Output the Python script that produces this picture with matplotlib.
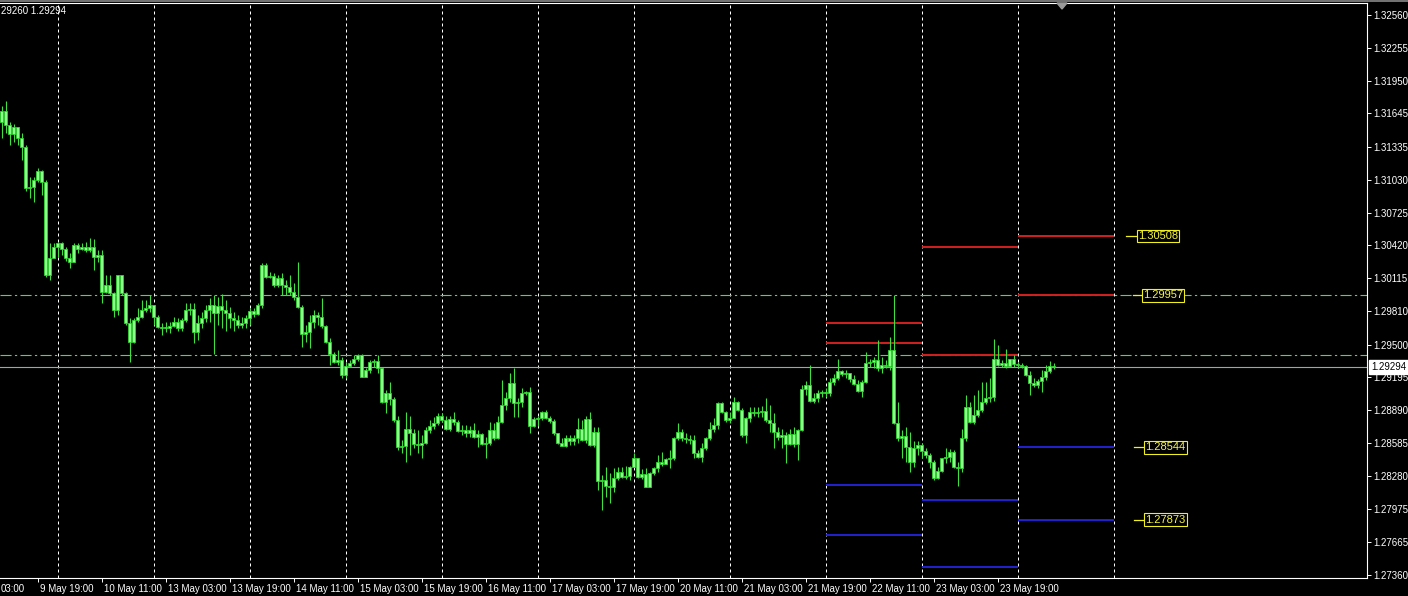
import numpy as np
import matplotlib
matplotlib.use("Agg")
import matplotlib.pyplot as plt
import matplotlib.transforms as mtransforms
from matplotlib.lines import Line2D
from matplotlib.patches import Polygon

# GBPUSD H1, 9 May 10:00 .. 24 May 09:00 (open of bar n = close of bar n-1)
first_open = 1.3157
closes = [
    1.3167, 1.3154, 1.3145, 1.3152, 1.3142, 1.3133, 1.3095, 1.3096, 1.3103, 1.3111,
    1.3101, 1.3015, 1.3030, 1.3041, 1.3044, 1.3039, 1.3030, 1.3027, 1.3042, 1.3039,
    1.3041, 1.3038, 1.3041, 1.3031, 1.3033, 1.2999, 1.3005, 1.2998, 1.2982, 1.3015,
    1.2998, 1.2970, 1.2952, 1.2973, 1.2976, 1.2982, 1.2984, 1.2987, 1.2976, 1.2966,
    1.2965, 1.2965, 1.2967, 1.2971, 1.2965, 1.2973, 1.2982, 1.2983, 1.2962, 1.2970,
    1.2975, 1.2982, 1.2987, 1.2979, 1.2986, 1.2982, 1.2979, 1.2975, 1.2973, 1.2968,
    1.2970, 1.2975, 1.2981, 1.2978, 1.2987, 1.3024, 1.3013, 1.3014, 1.3005, 1.3012,
    1.3005, 1.3003, 1.2999, 1.2994, 1.2985, 1.2960, 1.2962, 1.2971, 1.2977, 1.2976,
    1.2967, 1.2952, 1.2941, 1.2934, 1.2936, 1.2922, 1.2930, 1.2933, 1.2937, 1.2940,
    1.2920, 1.2926, 1.2934, 1.2935, 1.2928, 1.2897, 1.2905, 1.2899, 1.2880, 1.2855,
    1.2856, 1.2872, 1.2868, 1.2858, 1.2857, 1.2859, 1.2871, 1.2874, 1.2877, 1.2884,
    1.2880, 1.2872, 1.2881, 1.2878, 1.2870, 1.2871, 1.2868, 1.2871, 1.2864, 1.2867,
    1.2858, 1.2859, 1.2871, 1.2863, 1.2878, 1.2894, 1.2900, 1.2914, 1.2896, 1.2897,
    1.2905, 1.2906, 1.2874, 1.2881, 1.2882, 1.2887, 1.2882, 1.2879, 1.2868, 1.2859,
    1.2856, 1.2863, 1.2860, 1.2863, 1.2872, 1.2861, 1.2881, 1.2857, 1.2869, 1.2823,
    1.2824, 1.2819, 1.2818, 1.2826, 1.2832, 1.2827, 1.2828, 1.2836, 1.2845, 1.2827,
    1.2830, 1.2818, 1.2831, 1.2835, 1.2841, 1.2839, 1.2844, 1.2845, 1.2863, 1.2869,
    1.2863, 1.2862, 1.2861, 1.2849, 1.2846, 1.2854, 1.2863, 1.2872, 1.2875, 1.2896,
    1.2887, 1.2880, 1.2882, 1.2897, 1.2889, 1.2866, 1.2882, 1.2887, 1.2886, 1.2887,
    1.2888, 1.2880, 1.2877, 1.2869, 1.2864, 1.2866, 1.2858, 1.2867, 1.2858, 1.2871,
    1.2909, 1.2912, 1.2898, 1.2900, 1.2905, 1.2906, 1.2905, 1.2915, 1.2919, 1.2925,
    1.2923, 1.2924, 1.2918, 1.2913, 1.2907, 1.2915, 1.2933, 1.2934, 1.2936, 1.2928,
    1.2931, 1.2930, 1.2945, 1.2877, 1.2863, 1.2865, 1.2855, 1.2841, 1.2854, 1.2857,
    1.2851, 1.2847, 1.2841, 1.2826, 1.2833, 1.2845, 1.2846, 1.2850, 1.2836, 1.2835,
    1.2863, 1.2892, 1.2878, 1.2885, 1.2889, 1.2897, 1.2900, 1.2901, 1.2937, 1.2931,
    1.2933, 1.2930, 1.2937, 1.2932, 1.2931, 1.2930, 1.2922, 1.2914, 1.2912, 1.2916,
    1.2920, 1.2925, 1.2930, 1.29294,
]
highs = [
    1.3171, 1.3176, 1.3157, 1.3155, 1.3152, 1.3146, 1.3135, 1.3106, 1.3106, 1.3114,
    1.3112, 1.3103, 1.3044, 1.3044, 1.3045, 1.3045, 1.3041, 1.3035, 1.3044, 1.3044,
    1.3044, 1.3045, 1.3049, 1.3048, 1.3038, 1.3038, 1.3015, 1.3015, 1.2999, 1.3015,
    1.3015, 1.2999, 1.2975, 1.2975, 1.2984, 1.2991, 1.2991, 1.2996, 1.2977, 1.2977,
    1.2970, 1.2971, 1.2971, 1.2976, 1.2975, 1.2975, 1.2989, 1.2989, 1.2989, 1.2977,
    1.2980, 1.2987, 1.2993, 1.2996, 1.2994, 1.2997, 1.2991, 1.2985, 1.2980, 1.2977,
    1.2976, 1.2977, 1.2984, 1.2984, 1.2989, 1.3026, 1.3026, 1.3017, 1.3016, 1.3015,
    1.3016, 1.3010, 1.3015, 1.3007, 1.3027, 1.2987, 1.2968, 1.2977, 1.2982, 1.2980,
    1.2993, 1.2968, 1.2956, 1.2943, 1.2945, 1.2938, 1.2934, 1.2936, 1.2940, 1.2941,
    1.2941, 1.2928, 1.2936, 1.2937, 1.2940, 1.2928, 1.2908, 1.2915, 1.2901, 1.2884,
    1.2861, 1.2887, 1.2884, 1.2872, 1.2871, 1.2866, 1.2873, 1.2880, 1.2883, 1.2886,
    1.2886, 1.2884, 1.2884, 1.2887, 1.2880, 1.2875, 1.2875, 1.2874, 1.2877, 1.2871,
    1.2868, 1.2864, 1.2878, 1.2877, 1.2884, 1.2917, 1.2906, 1.2924, 1.2928, 1.2900,
    1.2910, 1.2907, 1.2911, 1.2883, 1.2884, 1.2888, 1.2889, 1.2884, 1.2881, 1.2868,
    1.2863, 1.2866, 1.2866, 1.2866, 1.2882, 1.2880, 1.2884, 1.2887, 1.2873, 1.2873,
    1.2829, 1.2836, 1.2831, 1.2835, 1.2836, 1.2836, 1.2837, 1.2837, 1.2849, 1.2845,
    1.2834, 1.2835, 1.2832, 1.2836, 1.2847, 1.2850, 1.2845, 1.2852, 1.2864, 1.2877,
    1.2872, 1.2868, 1.2866, 1.2866, 1.2852, 1.2859, 1.2864, 1.2878, 1.2882, 1.2897,
    1.2897, 1.2888, 1.2887, 1.2901, 1.2898, 1.2891, 1.2883, 1.2892, 1.2892, 1.2892,
    1.2893, 1.2900, 1.2894, 1.2886, 1.2873, 1.2872, 1.2869, 1.2872, 1.2873, 1.2872,
    1.2912, 1.2916, 1.2931, 1.2905, 1.2908, 1.2908, 1.2910, 1.2919, 1.2923, 1.2937,
    1.2926, 1.2926, 1.2924, 1.2922, 1.2917, 1.2917, 1.2943, 1.2937, 1.2938, 1.2954,
    1.2938, 1.2936, 1.2957, 1.2996, 1.2897, 1.2871, 1.2873, 1.2869, 1.2860, 1.2860,
    1.2859, 1.2854, 1.2849, 1.2843, 1.2836, 1.2845, 1.2854, 1.2853, 1.2852, 1.2841,
    1.2872, 1.2903, 1.2897, 1.2903, 1.2908, 1.2915, 1.2915, 1.2919, 1.2955, 1.2950,
    1.2936, 1.2946, 1.2937, 1.2940, 1.2934, 1.2933, 1.2931, 1.2925, 1.2919, 1.2918,
    1.2926, 1.2931, 1.2935, 1.2933,
]
lows = [
    1.3142, 1.3146, 1.3135, 1.3138, 1.3135, 1.3121, 1.3093, 1.3086, 1.3082, 1.3101,
    1.3089, 1.3013, 1.3010, 1.3030, 1.3031, 1.3033, 1.3028, 1.3021, 1.3027, 1.3035,
    1.3038, 1.3036, 1.3036, 1.3019, 1.3027, 1.2989, 1.2998, 1.2996, 1.2976, 1.2977,
    1.2996, 1.2968, 1.2934, 1.2951, 1.2971, 1.2975, 1.2980, 1.2980, 1.2968, 1.2965,
    1.2959, 1.2962, 1.2961, 1.2966, 1.2963, 1.2963, 1.2971, 1.2977, 1.2951, 1.2954,
    1.2965, 1.2971, 1.2971, 1.2941, 1.2968, 1.2965, 1.2963, 1.2965, 1.2963, 1.2965,
    1.2965, 1.2965, 1.2968, 1.2976, 1.2977, 1.2984, 1.3012, 1.3012, 1.3003, 1.3003,
    1.2996, 1.2996, 1.2996, 1.2991, 1.2984, 1.2948, 1.2952, 1.2947, 1.2965, 1.2968,
    1.2965, 1.2951, 1.2931, 1.2933, 1.2931, 1.2919, 1.2919, 1.2929, 1.2931, 1.2935,
    1.2920, 1.2920, 1.2924, 1.2929, 1.2924, 1.2896, 1.2886, 1.2894, 1.2878, 1.2852,
    1.2849, 1.2841, 1.2847, 1.2854, 1.2849, 1.2845, 1.2858, 1.2868, 1.2872, 1.2875,
    1.2878, 1.2871, 1.2870, 1.2875, 1.2869, 1.2866, 1.2864, 1.2864, 1.2863, 1.2855,
    1.2857, 1.2845, 1.2857, 1.2861, 1.2862, 1.2877, 1.2889, 1.2897, 1.2883, 1.2883,
    1.2892, 1.2903, 1.2868, 1.2873, 1.2874, 1.2880, 1.2881, 1.2877, 1.2866, 1.2858,
    1.2856, 1.2855, 1.2857, 1.2857, 1.2859, 1.2860, 1.2859, 1.2856, 1.2855, 1.2815,
    1.2796, 1.2808, 1.2803, 1.2813, 1.2824, 1.2826, 1.2825, 1.2824, 1.2838, 1.2826,
    1.2825, 1.2818, 1.2818, 1.2829, 1.2832, 1.2837, 1.2839, 1.2835, 1.2843, 1.2861,
    1.2860, 1.2859, 1.2858, 1.2845, 1.2845, 1.2841, 1.2852, 1.2861, 1.2869, 1.2872,
    1.2886, 1.2878, 1.2877, 1.2882, 1.2888, 1.2864, 1.2859, 1.2878, 1.2884, 1.2883,
    1.2883, 1.2878, 1.2869, 1.2854, 1.2861, 1.2854, 1.2840, 1.2857, 1.2855, 1.2843,
    1.2870, 1.2903, 1.2897, 1.2896, 1.2897, 1.2901, 1.2901, 1.2902, 1.2912, 1.2917,
    1.2921, 1.2919, 1.2915, 1.2912, 1.2906, 1.2901, 1.2914, 1.2929, 1.2928, 1.2925,
    1.2924, 1.2928, 1.2926, 1.2876, 1.2860, 1.2845, 1.2841, 1.2832, 1.2836, 1.2847,
    1.2845, 1.2845, 1.2835, 1.2824, 1.2825, 1.2832, 1.2840, 1.2841, 1.2835, 1.2819,
    1.2832, 1.2860, 1.2877, 1.2876, 1.2883, 1.2887, 1.2895, 1.2897, 1.2898, 1.2930,
    1.2929, 1.2928, 1.2929, 1.2929, 1.2928, 1.2928, 1.2921, 1.2903, 1.2911, 1.2910,
    1.2906, 1.2917, 1.2924, 1.2927,
]

# day separators (bar index of 00:00 of each day)
day_starts = [14, 38, 62, 86, 110, 134, 158, 182, 206, 230, 254, 278]

# daily levels: (start bar, end bar, [reds], [blues])
levels_22 = (206, 230, [1.29697, 1.29517], [1.28195, 1.27731])
levels_23 = (230, 254, [1.30405, 1.29402], [1.28056, 1.27434])
levels_24 = (254, 278, [1.30508, 1.29957], [1.28544, 1.27873])
tag_values = ["1.30508", "1.29957", "1.28544", "1.27873"]

hlines_green = [1.29957, 1.29405]
bid = 1.29294
header = "29260 1.29294"

price_ticks = [1.32560, 1.32255, 1.31950, 1.31645, 1.31335, 1.31030, 1.30725, 1.30420,
               1.30115, 1.29810, 1.29500, 1.29195, 1.28890, 1.28585, 1.28280, 1.27975,
               1.27665, 1.27360]

time_bars = [9, 25, 41, 57, 73, 89, 105, 121, 137, 153, 169, 185, 201, 217, 233, 249]
time_labels = ["9 May 19:00", "10 May 11:00", "13 May 03:00", "13 May 19:00",
               "14 May 11:00", "15 May 03:00", "15 May 19:00", "16 May 11:00", "17 May 03:00",
               "17 May 19:00", "20 May 11:00", "21 May 03:00", "21 May 19:00", "22 May 11:00",
               "23 May 03:00", "23 May 19:00"]
first_label = "03:00"   # tail of "9 May 03:00", cut by the left edge

plt.rcParams["font.family"] = ["Liberation Sans", "DejaVu Sans"]

W, H = 1408, 596
fig = plt.figure(figsize=(W / 100, H / 100), dpi=100, facecolor="black")
ax = fig.add_axes([0, (H - 578) / H, 1367 / W, (578 - 3) / H])
ax.set_facecolor("black")
ax.set_xlim(-0.375, 341.375)
ax.set_ylim(1.27332, 1.32671)

closes = np.array(closes)
highs = np.array(highs)
lows = np.array(lows)
opens = np.concatenate([[first_open], closes[:-1]])
x = np.arange(len(closes))

# grid / separators
for d in day_starts:
    ax.axvline(d, color="white", lw=0.72, ls=(0, (3, 3)), zorder=1)

for lv in hlines_green:
    ax.axhline(lv, color="#5cd05c", lw=0.8, ls=(0, (10, 3, 2, 3)), zorder=1)
ax.axhline(bid, color="#9aa4b6", lw=0.8, zorder=1)

for x0, x1, reds, blues in (levels_22, levels_23, levels_24):
    ax.hlines(reds, x0, x1, color="#d42020", lw=1.4, zorder=2)
    ax.hlines(blues, x0, x1, color="#2222d0", lw=1.4, zorder=2)

# candles
ax.vlines(x, lows, highs, color="#3fe03f", lw=0.8, zorder=3)
body_lo = np.minimum(opens, closes)
body_h = np.maximum(np.abs(closes - opens), 0.0001)
ax.bar(x, body_h, bottom=body_lo, width=0.55, color="#8cff8c", edgecolor="#2fd62f",
       linewidth=0.6, zorder=4)

# yellow price tags on the right of the last day's levels
tag_prices = levels_24[2] + levels_24[3]
tag_x = [284.1, 285.4, 285.9, 285.9]
tag_line = [(281.1, 283.6), (282.9, 284.9), (283.1, 285.4), (283.1, 285.4)]
for val, txt, tx, (l0, l1) in zip(tag_prices, tag_values, tag_x, tag_line):
    ax.plot([l0, l1], [val, val], color="#f0f020", lw=0.9, zorder=5)
    ax.text(tx, val, txt, color="#f6f640", fontsize=8, va="center", ha="left", zorder=6,
            bbox=dict(boxstyle="square,pad=0.12", fc="black", ec="#f0f020", lw=0.8))

# axes styling
ax.spines["left"].set_visible(False)
for side in ["top", "right", "bottom"]:
    ax.spines[side].set_color("white")
    ax.spines[side].set_linewidth(0.8)

ax.yaxis.tick_right()
ax.set_yticks(price_ticks)
ax.set_yticklabels(["%.5f" % p for p in price_ticks])
ax.tick_params(axis="y", colors="white", labelsize=7, length=3, width=0.7, pad=1.5)

ax.set_xticks(time_bars)
ax.set_xticklabels([])
ax.tick_params(axis="x", colors="white", length=3, width=0.7)
off = mtransforms.offset_copy(ax.get_xaxis_transform(), fig=fig, x=2, y=-11, units="dots")
for b, lbl in zip(time_bars, time_labels):
    ax.text(b, 0, lbl, transform=off, color="white", fontsize=7, ha="left", va="center",
            clip_on=False)
fig.text(1 / W, 1 - 589 / H, first_label, color="white", fontsize=7, ha="left", va="center")

# bid price box on the axis
ax.annotate("%.5f" % bid, xy=(1, bid), xycoords=("axes fraction", "data"),
            xytext=(4, 0), textcoords="offset pixels", color="black", fontsize=7,
            va="center", ha="left",
            bbox=dict(boxstyle="square,pad=0.2", fc="white", ec="white"))

# header text and chart-shift marker
fig.text(1 / W, 1 - 11.5 / H, header, color="white", fontsize=7, va="center", ha="left")
fig.add_artist(Line2D([0, 1], [1 - 0.8 / H] * 2, color="#8a8a8a", lw=1.2))
fig.add_artist(Polygon([(1057 / W, 1 - 3 / H), (1067 / W, 1 - 3 / H), (1062 / W, 1 - 9 / H)],
                       closed=True, color="#9a9a9a", transform=fig.transFigure))

fig.savefig("out.png", dpi=100, facecolor="black")
